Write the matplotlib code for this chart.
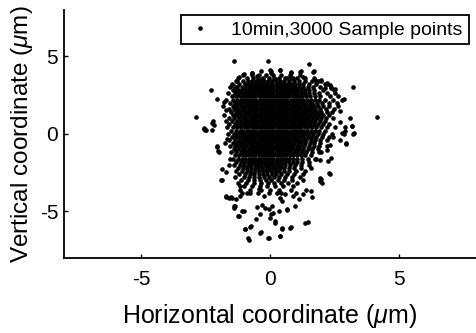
import numpy as np
import matplotlib
matplotlib.use('Agg')
from matplotlib import pyplot as plt

plt.rcParams['font.family'] = ['Liberation Sans', 'DejaVu Sans']
plt.rcParams['mathtext.fontset'] = 'custom'
plt.rcParams['mathtext.it'] = 'Liberation Sans:italic'
plt.rcParams['mathtext.rm'] = 'Liberation Sans'
plt.rcParams['axes.unicode_minus'] = False

# dense part of the cloud, read row by row (y level -> x positions)
row_y = [3.8, 3.6, 3.4, 3.2, 3.0, 2.8, 2.6, 2.4, 2.2, 2.0, 1.8, 1.6, 1.4, 1.2, 1.0,
         0.8, 0.6, 0.4, 0.2, 0.0, -0.2, -0.4, -0.6, -0.8, -1.0, -1.2, -1.4, -1.6,
         -1.8, -2.0, -2.2, -2.4, -2.6, -2.8, -3.0, -3.2, -3.4, -3.6, -3.8]
row_x = [
    [-1.05, -0.7, -0.41, -0.15, 0.12, 0.44, 0.78, 1.18],
    [-1.22, -0.9, -0.66, -0.47, -0.26, -0.04, 0.17, 0.35, 0.6, 0.83, 1.04, 1.38, 1.7],
    [-1.32, -1.05, -0.86, -0.69, -0.52, -0.37, -0.21, -0.06, 0.1, 0.25, 0.41, 0.56,
     0.74, 0.93, 1.12, 1.35, 1.62, 1.98],
    [-1.48, -1.18, -0.98, -0.86, -0.74, -0.62, -0.5, -0.38, -0.26, -0.14, -0.02, 0.1,
     0.22, 0.34, 0.46, 0.58, 0.7, 0.83, 0.97, 1.12, 1.3, 1.52, 1.8, 2.22],
    [-1.55, -1.27, -1.09, -0.95, -0.82, -0.7, -0.58, -0.46, -0.34, -0.22, -0.1, 0.02,
     0.14, 0.26, 0.38, 0.5, 0.62, 0.74, 0.86, 0.99, 1.13, 1.28, 1.46, 1.68, 1.95, 2.38],
    [-1.42, -1.24, -1.1, -0.98, -0.86, -0.74, -0.62, -0.5, -0.38, -0.26, -0.14, -0.02,
     0.1, 0.22, 0.34, 0.46, 0.58, 0.7, 0.82, 0.94, 1.07, 1.2, 1.35, 1.52, 1.73, 2.08, 2.5],
    [-1.62, -1.36, -1.2, -1.06, -0.94, -0.82, -0.7, -0.58, -0.46, -0.34, -0.22, -0.1,
     0.02, 0.14, 0.26, 0.38, 0.5, 0.62, 0.74, 0.86, 0.98, 1.1, 1.23, 1.37, 1.53, 1.72,
     1.9, 2.2],
    [-1.48, -1.3, -1.16, -1.04, -0.92, -0.8, -0.68, -0.56, -0.44, -0.32, -0.2, -0.08,
     0.04, 0.16, 0.28, 0.4, 0.52, 0.64, 0.76, 0.88, 1.0, 1.12, 1.25, 1.39, 1.55, 1.74,
     1.95, 2.33, 2.66],
    [-1.72, -1.42, -1.26, -1.13, -1.0, -0.88, -0.76, -0.64, -0.52, -0.4, -0.28, -0.16,
     -0.04, 0.08, 0.2, 0.32, 0.44, 0.56, 0.68, 0.8, 0.92, 1.04, 1.16, 1.29, 1.43, 1.58,
     1.75, 1.92, 2.14, 2.45],
    [-1.55, -1.34, -1.2, -1.07, -0.94, -0.82, -0.7, -0.58, -0.46, -0.34, -0.22, -0.1,
     0.02, 0.14, 0.26, 0.38, 0.5, 0.62, 0.74, 0.86, 0.98, 1.1, 1.23, 1.36, 1.5, 1.65,
     1.83, 2.03, 2.3, 2.62],
    [-1.82, -1.45, -1.28, -1.14, -1.01, -0.88, -0.76, -0.64, -0.52, -0.4, -0.28, -0.16,
     -0.04, 0.08, 0.2, 0.32, 0.44, 0.56, 0.68, 0.8, 0.92, 1.04, 1.16, 1.29, 1.42, 1.56,
     1.72, 1.88, 2.06, 2.28],
    [-1.6, -1.38, -1.22, -1.08, -0.95, -0.82, -0.7, -0.58, -0.46, -0.34, -0.22, -0.1,
     0.02, 0.14, 0.26, 0.38, 0.5, 0.62, 0.74, 0.86, 0.98, 1.1, 1.22, 1.35, 1.48, 1.62,
     1.77, 1.95, 2.16, 2.5],
    [-1.52, -1.32, -1.16, -1.02, -0.89, -0.76, -0.64, -0.52, -0.4, -0.28, -0.16, -0.04,
     0.08, 0.2, 0.32, 0.44, 0.56, 0.68, 0.8, 0.92, 1.04, 1.16, 1.28, 1.41, 1.54, 1.68,
     1.83, 2.0, 2.2, 2.42],
    [-1.78, -1.44, -1.26, -1.11, -0.97, -0.84, -0.71, -0.58, -0.46, -0.34, -0.22, -0.1,
     0.02, 0.14, 0.26, 0.38, 0.5, 0.62, 0.74, 0.86, 0.98, 1.1, 1.22, 1.34, 1.47, 1.6,
     1.74, 1.9, 2.07, 2.3],
    [-1.6, -1.38, -1.2, -1.05, -0.91, -0.78, -0.64, -0.52, -0.4, -0.28, -0.16, -0.04,
     0.08, 0.2, 0.32, 0.44, 0.56, 0.68, 0.8, 0.92, 1.04, 1.16, 1.28, 1.4, 1.53, 1.67,
     1.82, 1.98, 2.18, 2.44],
    [-1.7, -1.46, -1.28, -1.12, -0.98, -0.84, -0.71, -0.58, -0.46, -0.34, -0.22, -0.1,
     0.02, 0.14, 0.26, 0.38, 0.5, 0.62, 0.74, 0.86, 0.98, 1.1, 1.22, 1.34, 1.47, 1.61,
     1.76, 1.93, 2.12],
    [-1.58, -1.36, -1.2, -1.05, -0.91, -0.78, -0.64, -0.52, -0.4, -0.28, -0.16, -0.04,
     0.08, 0.2, 0.32, 0.44, 0.56, 0.68, 0.8, 0.92, 1.04, 1.16, 1.28, 1.41, 1.55, 1.7,
     1.86, 2.06, 2.3],
    [-1.66, -1.42, -1.26, -1.11, -0.97, -0.84, -0.71, -0.58, -0.46, -0.34, -0.22, -0.1,
     0.02, 0.14, 0.26, 0.38, 0.5, 0.62, 0.74, 0.86, 0.98, 1.1, 1.22, 1.35, 1.49, 1.64,
     1.8, 1.98, 2.2, 2.52],
    [-1.5, -1.32, -1.17, -1.03, -0.9, -0.77, -0.64, -0.52, -0.4, -0.28, -0.16, -0.04,
     0.08, 0.2, 0.32, 0.44, 0.56, 0.68, 0.8, 0.92, 1.04, 1.16, 1.29, 1.43, 1.58, 1.74,
     1.92, 2.14],
    [-1.62, -1.4, -1.24, -1.09, -0.96, -0.83, -0.7, -0.58, -0.46, -0.34, -0.22, -0.1,
     0.02, 0.14, 0.26, 0.38, 0.5, 0.62, 0.74, 0.86, 0.98, 1.1, 1.23, 1.37, 1.52, 1.68,
     1.86, 2.08, 2.4],
    [-1.46, -1.3, -1.15, -1.02, -0.89, -0.76, -0.64, -0.52, -0.4, -0.28, -0.16, -0.04,
     0.08, 0.2, 0.32, 0.44, 0.56, 0.68, 0.8, 0.92, 1.04, 1.17, 1.31, 1.46, 1.62, 1.8,
     2.02, 2.3],
    [-1.58, -1.36, -1.2, -1.06, -0.93, -0.8, -0.68, -0.56, -0.44, -0.32, -0.2, -0.08,
     0.04, 0.16, 0.28, 0.4, 0.52, 0.64, 0.76, 0.88, 1.0, 1.13, 1.27, 1.42, 1.58, 1.76,
     1.96, 2.2],
    [-1.44, -1.28, -1.14, -1.0, -0.87, -0.74, -0.62, -0.5, -0.38, -0.26, -0.14, -0.02,
     0.1, 0.22, 0.34, 0.46, 0.58, 0.7, 0.82, 0.95, 1.08, 1.22, 1.37, 1.54, 1.73, 1.95],
    [-1.55, -1.34, -1.18, -1.04, -0.91, -0.78, -0.66, -0.54, -0.42, -0.3, -0.18, -0.06,
     0.06, 0.18, 0.3, 0.42, 0.54, 0.66, 0.78, 0.91, 1.04, 1.18, 1.33, 1.5, 1.7, 1.92, 2.2],
    [-1.4, -1.24, -1.1, -0.96, -0.83, -0.7, -0.58, -0.46, -0.34, -0.22, -0.1, 0.02,
     0.14, 0.26, 0.38, 0.5, 0.62, 0.74, 0.87, 1.0, 1.14, 1.29, 1.46, 1.65, 1.88],
    [-1.5, -1.3, -1.14, -1.0, -0.87, -0.74, -0.62, -0.5, -0.38, -0.26, -0.14, -0.02,
     0.1, 0.22, 0.34, 0.46, 0.58, 0.7, 0.83, 0.96, 1.1, 1.25, 1.42, 1.62, 1.9],
    [-1.36, -1.2, -1.06, -0.93, -0.8, -0.68, -0.56, -0.44, -0.32, -0.2, -0.08, 0.04,
     0.16, 0.28, 0.4, 0.52, 0.64, 0.77, 0.9, 1.04, 1.2, 1.38, 1.6],
    [-1.44, -1.24, -1.08, -0.95, -0.82, -0.7, -0.58, -0.46, -0.34, -0.22, -0.1, 0.02,
     0.14, 0.26, 0.38, 0.5, 0.63, 0.76, 0.9, 1.06, 1.24, 1.46, 1.78],
    [-1.3, -1.13, -0.99, -0.86, -0.74, -0.62, -0.5, -0.38, -0.26, -0.14, -0.02, 0.1,
     0.22, 0.34, 0.46, 0.59, 0.73, 0.88, 1.05, 1.26, 1.52],
    [-1.38, -1.16, -1.0, -0.86, -0.72, -0.59, -0.46, -0.33, -0.2, -0.08, 0.05, 0.18,
     0.31, 0.45, 0.6, 0.77, 0.96, 1.2, 1.5],
    [-1.24, -1.04, -0.88, -0.73, -0.59, -0.45, -0.31, -0.17, -0.03, 0.11, 0.25, 0.4,
     0.56, 0.74, 0.95, 1.22, 1.6],
    [-1.32, -1.08, -0.9, -0.74, -0.58, -0.43, -0.28, -0.12, 0.03, 0.19, 0.36, 0.54,
     0.75, 1.0, 1.35],
    [-1.18, -0.96, -0.78, -0.61, -0.44, -0.27, -0.1, 0.07, 0.25, 0.44, 0.66, 0.93, 1.28],
    [-1.34, -1.02, -0.8, -0.6, -0.41, -0.22, -0.03, 0.17, 0.37, 0.6, 0.87, 1.18],
    [-1.12, -0.85, -0.61, -0.38, -0.16, 0.06, 0.3, 0.56, 0.86, 1.28],
    [-1.25, -0.92, -0.63, -0.35, -0.09, 0.16, 0.42, 0.72, 1.06],
    [-1.0, -0.7, -0.4, -0.12, 0.18, 0.5, 0.9],
    [-1.15, -0.76, -0.36, 0.0, 0.36, 0.8, 1.4],
    [-0.9, -0.45, -0.05, 0.45, 1.0],
]

# loose points around the cloud, read one by one
halo_x = [-1.40, -0.08, 1.53, 3.23, 4.16, -2.85, -2.29, -2.07, -2.55, -2.49, -2.2,
          -2.07, -2.01, -1.87, -1.71, -1.52, -1.39, -1.24, -1.0, -0.98, -0.84, -0.72,
          -0.36, -0.08, 0.41, 0.48, 0.82, 1.47, 0.18, 0.05, 0.67, 1.12, 1.6, 1.64,
          1.98, 2.02, 2.28, 2.96, 2.86, 2.93, 3.18, 3.27, 3.12, 2.86, 2.54, 2.15, 1.7,
          1.19, 0.8, 0.41, 0.03, -0.36, -0.68, -1.0,
          -2.24, -2.17, -2.56, -2.5, -2.24, -2.05, -1.98, -1.76, -1.66, -1.85, -1.72,
          -1.6, -1.53, -1.88,
          2.72, 2.91, 3.17, 3.23, 2.78, 2.72, 2.97, 2.46, 2.33, 2.2, 2.0, 2.39, 2.27,
          1.94, 1.75, 2.33, 1.94, 1.94,
          -1.79, -1.69, -1.21, -1.27, -1.4, -1.34, -1.15, -1.21, -1.27, -1.34, -1.27,
          -1.34,
          1.66, 1.88, 2.0, 1.75, 2.2, 2.33, 2.39, 2.14, 2.52, 2.78, 2.65, 2.72,
          -0.69, 0.01, 0.04, 0.4, 0.81, 1.17, -0.5, -0.31, 0.2, 0.66, 0.91, 1.3,
          -0.5, -0.31, -0.18, -0.05, 0.08, 0.14, 0.34, 0.66, 0.98, 0.01, 0.2, -0.37,
          -0.53, -0.76, -0.37, -0.05, 0.4, 0.78, 1.36, 0.46, -0.82,
          -0.76, -0.44, -0.24, 0.27, 0.4, 0.59, 0.91, 1.3, 0.46,
          -1.72, -1.6, -1.47, -1.3, -1.15, -1.08, -1.15, -1.34, -1.4, -1.08, -1.21,
          -0.95]
halo_y = [4.72, 4.66, 4.51, 3.03, 1.09, 1.09, 2.83, 2.21, 0.36, 0.24, 0.8,
          -0.79, -1.12, -3.0, -4.0, -4.06, -4.66, -5.34, -5.0, -6.16, -6.74, -5.94,
          -6.31, -6.7, -6.63, -6.16, -6.01, -5.69, -5.62, -5.19, -4.91, -4.23, -3.71,
          -4.06, -2.94, -3.15, -2.55, -0.58, -0.04, 0.17, 0.49, 0.06, 1.03, 2.21, 2.9,
          3.18, 4.03, 4.03, 3.93, 4.14, 4.03, 4.03, 3.93, 3.82,
          0.71, 0.58, 0.32, 0.21, 0.21, -0.86, -1.18, -0.58, -0.32, -2.26, -2.47,
          -2.04, -1.61, -3.01,
          0.75, 0.43, 0.49, 0.0, 0.06, -0.43, -0.65, -0.21, -0.75, -1.08, -1.18,
          -1.57, -1.78, -1.72, -1.61, -2.58, -2.86, -3.07,
          2.04, 1.55, 3.63, 3.37, 3.05, 2.84, 2.73, 2.52, 2.09, 1.76, 1.34, 1.12,
          3.98, 3.42, 3.48, 3.48, 3.27, 3.16, 2.95, 2.95, 2.63, 2.19, 1.76, 1.44,
          3.91, 4.13, 3.91, 4.13, 3.98, 3.98, 3.7, 3.55, 3.55, 3.6, 3.6, 3.63,
          -4.71, -4.62, -4.77, -4.88, -4.66, -5.14, -4.99, -4.88, -4.66, -5.42, -5.74,
          -5.2, -5.53, -6.0, -6.39, -6.71, -6.6, -6.06, -5.74, -6.06, -6.86,
          -3.81, -3.59, -4.02, -3.81, -4.13, -3.92, -4.02, -3.92, -4.34,
          -4.06, -4.13, -4.13, -4.19, -4.02, -3.81, -3.37, -4.66, -4.77, -4.99, -5.31,
          -6.17]

xs = []
ys = []
for y, row in zip(row_y, row_x):
    xs += row
    ys += [y] * len(row)
xs = np.array(xs + halo_x)
ys = np.array(ys + halo_y)

fig = plt.figure(figsize=(4.76, 3.33), dpi=100)
ax = fig.add_axes([0.134, 0.226, 0.866, 0.745])
ax.plot(xs, ys, '.', color='k', ms=4.6, label='10min,3000 Sample points')

ax.set_xlim(-8, 8)
ax.set_ylim(-8, 8)
ax.set_xticks([-5, 0, 5])
ax.set_yticks([-5, 0, 5])
ax.tick_params(direction='in', length=3, width=1, labelsize=15)
ax.tick_params(axis='x', pad=9)
ax.tick_params(axis='y', pad=4)
for s in ['top', 'right']:
    ax.spines[s].set_visible(False)
for s in ['left', 'bottom']:
    ax.spines[s].set_linewidth(1.3)

ax.set_xlabel(r'Horizontal coordinate ($\mu$m)', fontsize=18, va='center')
ax.set_ylabel(r'Vertical coordinate ($\mu$m)', fontsize=17.5, va='center')
ax.xaxis.set_label_coords(0.5, -0.235)
ax.yaxis.set_label_coords(-0.102, 0.5)

leg = ax.legend(loc='upper right', bbox_to_anchor=(0.982, 0.978), borderaxespad=0,
                fontsize=14, fancybox=False, framealpha=1, edgecolor='k',
                handlelength=1.4, handletextpad=0.9, borderpad=0.3, markerscale=1)
leg.get_frame().set_linewidth(1.3)

fig.savefig('out.png', dpi=100)
